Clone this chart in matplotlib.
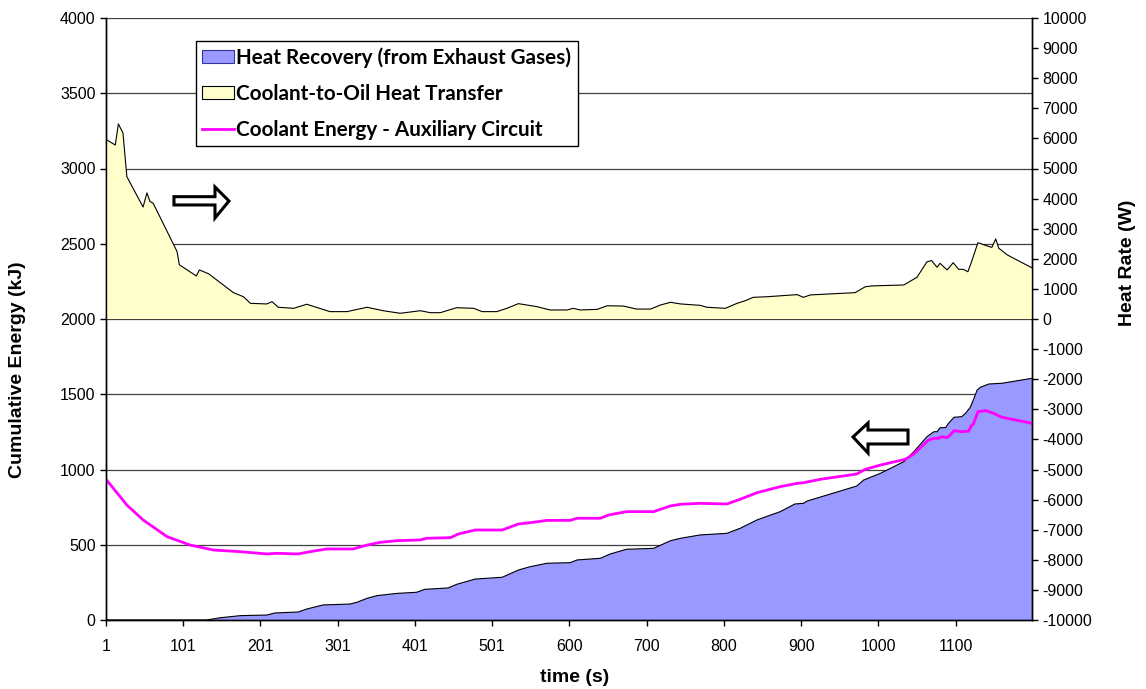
import numpy as np
import matplotlib
matplotlib.use("Agg")
from matplotlib import pyplot as plt
from matplotlib.patches import Polygon, Patch
from matplotlib.lines import Line2D

plt.rcParams['font.family'] = ['Liberation Sans', 'DejaVu Sans']
plt.rcParams['axes.unicode_minus'] = False

# time axis (s) — Excel category axis, labels every 100 points
tick_pos = [1, 101, 201, 301, 401, 501, 601, 701, 801, 901, 1001, 1101]
tick_labels = ['1', '101', '201', '301', '401', '501', '600', '700', '800', '900', '1000', '1100']

# Coolant-to-Oil heat transfer (W), right axis
oil_t = [1, 2, 13, 17, 23, 28, 49, 54, 58, 62, 93, 96, 118, 122, 134, 166, 179, 188,
         209, 216, 224, 244, 261, 291, 313, 339, 360, 382, 408, 421, 434, 442, 455,
         477, 488, 507, 520, 535, 559, 576, 598, 606, 615, 637, 650, 671, 688, 706,
         719, 732, 745, 770, 779, 803, 818, 829, 839, 857, 896, 904, 913, 971, 984,
         993, 1034, 1051, 1064, 1070, 1077, 1081, 1090, 1098, 1105, 1111, 1117, 1121,
         1130, 1142, 1148, 1153, 1157, 1168, 1185, 1200]
oil_w = [5950, 5950, 5780, 6480, 6180, 4730, 3720, 4190, 3900, 3850, 2240, 1800, 1430,
         1630, 1500, 875, 740, 520, 500, 575, 390, 355, 490, 245, 245, 390, 275, 190,
         275, 210, 210, 275, 375, 355, 245, 245, 355, 510, 410, 300, 300, 355, 300,
         320, 440, 430, 330, 330, 465, 555, 500, 455, 390, 355, 520, 610, 720, 740,
         810, 720, 800, 875, 1070, 1100, 1130, 1385, 1900, 1940, 1720, 1850, 1630,
         1870, 1650, 1650, 1570, 1850, 2535, 2425, 2380, 2660, 2350, 2130, 1900, 1700]

# Heat recovery from exhaust gases, cumulative (kJ)
rec_t = [1, 131, 149, 175, 209, 220, 250, 261, 282, 317, 326, 339, 352, 378, 403, 414,
         444, 455, 479, 514, 535, 550, 572, 602, 611, 641, 654, 675, 710, 732, 745,
         770, 805, 822, 844, 874, 893, 904, 909, 926, 973, 982, 1004, 1034, 1047,
         1064, 1073, 1077, 1081, 1088, 1092, 1099, 1109, 1114, 1120, 1124, 1129, 1133,
         1144, 1161, 1200]
rec_kj = [0, 0, 15, 29, 33, 47, 53, 73, 100, 106, 118, 144, 162, 177, 184, 204, 213,
          237, 272, 284, 332, 354, 377, 381, 399, 410, 439, 470, 476, 527, 543, 565,
          576, 609, 665, 720, 771, 775, 791, 817, 890, 930, 975, 1052, 1118, 1218,
          1251, 1251, 1278, 1278, 1307, 1347, 1351, 1374, 1413, 1462, 1528, 1546,
          1568, 1573, 1606]

# Coolant energy - auxiliary circuit (kJ)
aux_t = [1, 28, 49, 80, 110, 140, 175, 209, 222, 250, 265, 287, 321, 339, 356, 378,
         408, 416, 447, 457, 479, 514, 535, 554, 572, 602, 611, 641, 652, 675, 710,
         732, 745, 770, 805, 822, 844, 874, 896, 904, 926, 973, 984, 1004, 1036, 1047,
         1066, 1073, 1079, 1083, 1090, 1094, 1099, 1109, 1118, 1122, 1124, 1130, 1140,
         1150, 1161, 1200]
aux_kj = [935, 764, 665, 554, 498, 465, 454, 439, 443, 439, 454, 472, 472, 498, 516,
          527, 532, 543, 547, 571, 598, 598, 638, 649, 662, 662, 676, 676, 698, 720,
          720, 758, 769, 775, 771, 802, 846, 886, 908, 912, 935, 970, 1001, 1030, 1068,
          1103, 1196, 1207, 1207, 1218, 1212, 1229, 1258, 1251, 1255, 1296, 1300, 1384,
          1391, 1374, 1347, 1307]

fig = plt.figure(figsize=(11.46, 6.89), dpi=100)
ax1 = fig.add_axes([106 / 1146, 69 / 689, 926 / 1146, 602 / 689])
ax2 = ax1.twinx()

# left axis: cumulative energies
ax1.fill_between(rec_t, 0, rec_kj, facecolor='#9999FF', edgecolor='none', zorder=2)
ax1.plot(rec_t, rec_kj, color='black', lw=0.8, zorder=3)
ax1.plot(aux_t, aux_kj, color='#FF00FF', lw=2, zorder=4)

ax1.set_xlim(1, 1200)
ax1.set_ylim(0, 4000)
ax1.set_yticks(np.arange(0, 4001, 500))
ax1.set_xticks(tick_pos)
ax1.set_xticklabels(tick_labels)
ax1.yaxis.grid(True, color='#404040', lw=0.9)
ax1.set_axisbelow(True)

# right axis: heat rate
ax2.fill_between(oil_t, 0, oil_w, facecolor='#FFFFCC', edgecolor='none', zorder=2)
ax2.plot(oil_t, oil_w, color='black', lw=0.8, zorder=3)
ax2.set_ylim(-10000, 10000)
ax2.set_yticks(np.arange(-10000, 10001, 1000))

for a in (ax1, ax2):
    a.spines['top'].set_visible(False)
    for s in ('left', 'right', 'bottom'):
        a.spines[s].set_linewidth(1.0)
    a.tick_params(direction='out', length=4, width=1, labelsize=11.5, colors='black')
ax1.tick_params(axis='x', pad=10)

fig.text(18 / 1146, 1 - 370 / 689, 'Cumulative Energy (kJ)', rotation=90,
         ha='center', va='center', fontsize=14, fontweight='bold')
fig.text(1128 / 1146, 1 - 263 / 689, 'Heat Rate (W)', rotation=90,
         ha='center', va='center', fontsize=14, fontweight='bold')
fig.text(575 / 1146, 1 - 677 / 689, 'time (s)', ha='center', va='center',
         fontsize=14, fontweight='bold')

# hollow arrows pointing to the relevant axis
right_arrow = [(0.0734, 0.7032), (0.1177, 0.7032), (0.1177, 0.7193), (0.1328, 0.696),
               (0.1177, 0.6678), (0.1177, 0.6894), (0.0734, 0.6894)]
left_arrow = [(0.8661, 0.3156), (0.8229, 0.3156), (0.8229, 0.3272), (0.8067, 0.304),
              (0.8229, 0.2774), (0.8229, 0.2924), (0.8661, 0.2924)]
for pts in (right_arrow, left_arrow):
    ax2.add_patch(Polygon(pts, closed=True, facecolor='white', edgecolor='black',
                          lw=2.2, transform=ax2.transAxes, zorder=6, joinstyle='miter'))

handles = [Patch(facecolor='#9999FF', edgecolor='#333399', lw=0.8),
           Patch(facecolor='#FFFFCC', edgecolor='black', lw=0.8),
           Line2D([], [], color='#FF00FF', lw=2)]
labels = ['Heat Recovery (from Exhaust Gases)', 'Coolant-to-Oil Heat Transfer',
          'Coolant Energy - Auxiliary Circuit']
leg = ax2.legend(handles, labels, loc='upper left', bbox_to_anchor=(0.0972, 0.9618),
                 borderaxespad=0, fancybox=False, framealpha=1, edgecolor='black',
                 prop={'family': 'Lato', 'weight': 'bold', 'size': 14.9},
                 handlelength=1.55, handleheight=0.55, handletextpad=0.1,
                 labelspacing=0.78, borderpad=0.3)
leg.get_frame().set_linewidth(1.0)
leg.set_zorder(10)

fig.savefig('out.png', dpi=100)
